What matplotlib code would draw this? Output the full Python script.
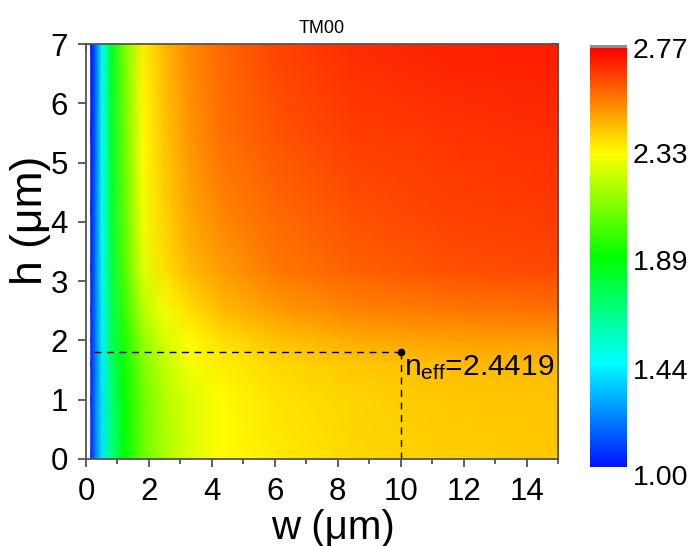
import numpy as np
import matplotlib
matplotlib.use("Agg")
import matplotlib.pyplot as plt
import matplotlib.transforms as mtransforms
from matplotlib.colors import LinearSegmentedColormap

plt.rcParams['font.family'] = ['Liberation Sans', 'DejaVu Sans']
plt.rcParams['mathtext.fontset'] = 'custom'
plt.rcParams['mathtext.rm'] = 'Liberation Sans'
plt.rcParams['mathtext.it'] = 'Liberation Sans:italic'

# waveguide width / height grid (um)
w_vals = [0.15, 0.3, 0.5, 0.8, 1.2, 1.8, 2.5, 3.3, 4.3, 6.0, 8.5, 11.5, 15.0]
h_vals = [0.0, 1.0, 1.6, 2.0, 2.5, 3.2, 4.2, 5.5, 7.0]

neff_h00 = [1.04, 1.21, 1.40, 1.67, 1.87, 2.06, 2.18, 2.26, 2.33, 2.36, 2.39, 2.41, 2.42]
neff_h10 = [1.04, 1.21, 1.40, 1.68, 1.88, 2.07, 2.19, 2.27, 2.33, 2.37, 2.40, 2.42, 2.43]
neff_h16 = [1.03, 1.20, 1.41, 1.70, 1.90, 2.10, 2.22, 2.31, 2.35, 2.39, 2.42, 2.44, 2.45]
neff_h20 = [1.03, 1.20, 1.42, 1.72, 1.93, 2.14, 2.26, 2.33, 2.38, 2.43, 2.47, 2.49, 2.50]
neff_h25 = [1.03, 1.20, 1.42, 1.74, 1.97, 2.20, 2.31, 2.38, 2.44, 2.50, 2.54, 2.56, 2.57]
neff_h32 = [1.02, 1.20, 1.43, 1.77, 2.01, 2.27, 2.38, 2.45, 2.50, 2.56, 2.60, 2.625, 2.64]
neff_h42 = [1.02, 1.18, 1.44, 1.79, 2.04, 2.31, 2.41, 2.48, 2.54, 2.59, 2.63, 2.655, 2.67]
neff_h55 = [1.00, 1.16, 1.44, 1.81, 2.06, 2.33, 2.43, 2.51, 2.57, 2.62, 2.66, 2.68, 2.69]
neff_h70 = [1.00, 1.15, 1.44, 1.82, 2.08, 2.35, 2.45, 2.53, 2.59, 2.65, 2.69, 2.71, 2.72]

cbar_ticks = [1.00, 1.44, 1.89, 2.33, 2.77]
point_w, point_h, point_neff = 10.0, 1.8, 2.4419

neff = np.array([neff_h00, neff_h10, neff_h16, neff_h20, neff_h25,
                 neff_h32, neff_h42, neff_h55, neff_h70])

cmap = LinearSegmentedColormap.from_list(
    "origin_rainbow",
    [(0.0, (0.0, 0.08, 1.0)), (0.25, (0.0, 1.0, 1.0)), (0.5, (0.0, 1.0, 0.0)),
     (0.75, (1.0, 1.0, 0.0)), (1.0, (1.0, 0.0, 0.0))])
cmap.set_over('#8c8c8c')

fig = plt.figure(figsize=(6.95, 5.46), dpi=100)
ax = fig.add_axes([86/695, 1-459/546, 472/695, 415/546])
cax = fig.add_axes([590/695, 1-467/546, 37/695, 422/546])

W, H = np.meshgrid(w_vals, h_vals)
mesh = ax.pcolormesh(W, H, neff, shading='gouraud', cmap=cmap,
                     vmin=cbar_ticks[0], vmax=cbar_ticks[-1])

# marked design point
ax.plot([0.25, point_w], [point_h, point_h], ls=(0, (5, 4)), color='k', lw=1)
ax.plot([point_w, point_w], [0, point_h], ls=(0, (5, 4)), color='k', lw=1)
ax.plot(point_w, point_h, 'o', color='k', ms=4.5)
ax.text(point_w + 0.12, 1.42, r'$\mathrm{n_{eff}}$=%.4f' % point_neff,
        fontsize=21.5, va='baseline', ha='left')

ax.set_xlim(0, 15)
ax.set_ylim(0, 7)
ax.set_xticks(np.arange(0, 15, 2))
ax.set_xticks(np.arange(1, 16, 2), minor=True)
ax.set_yticks(np.arange(0, 8, 1))
ax.tick_params(axis='both', which='major', direction='out', length=5.8, width=1.1,
               labelsize=22.5, color='#333333', pad=7.2)
ax.tick_params(axis='x', which='minor', direction='out', length=3.3, width=1.1,
               color='#333333')
for sp in ax.spines.values():
    sp.set_color('#555555')
    sp.set_linewidth(1.3)

top = ax.secondary_xaxis('top')
top.set_xticks(np.arange(0, 16, 1))
top.tick_params(direction='in', length=5, width=1.1, labeltop=False, color='#333333')
top.spines['top'].set_color('#555555')
right = ax.secondary_yaxis('right')
right.set_yticks(np.arange(0, 8, 1))
right.tick_params(direction='in', length=5, width=1.1, labelright=False, color='#333333')
right.spines['right'].set_color('#555555')

ax.set_xlabel('w (μm)', fontsize=29, va='top')
ax.xaxis.set_label_coords(0.523, -0.12)
ax.set_ylabel('h (μm)', fontsize=32)
ax.yaxis.set_label_coords(-0.075, 0.576)
ax.set_title('TM00', fontsize=13, pad=8)

cb = fig.colorbar(mesh, cax=cax, extend='max', extendrect=True, extendfrac=0.008)
cb.outline.set_visible(False)
cb.set_ticks(cbar_ticks)
cb.set_ticklabels(['%.2f' % t for t in cbar_ticks])
cax.tick_params(length=0, labelsize=20.5, pad=4)
# labels sit a little lower towards the bottom of the bar
for lab, dy in zip(cax.get_yticklabels(), [8, 6, 4, 1, 0]):
    lab.set_transform(lab.get_transform() +
                      mtransforms.ScaledTranslation(0, -dy/100, fig.dpi_scale_trans))

fig.savefig('out.png', dpi=100)
